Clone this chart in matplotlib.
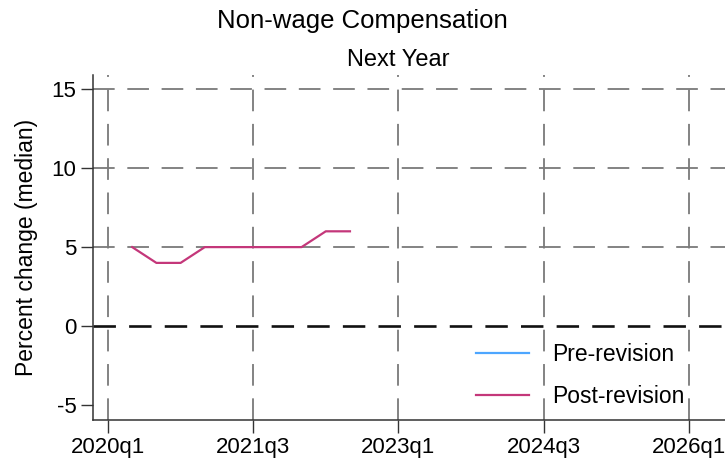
import numpy as np
import matplotlib
matplotlib.use("Agg")
import matplotlib.pyplot as plt

plt.rcParams['font.family'] = ['Liberation Sans', 'DejaVu Sans']
plt.rcParams['axes.unicode_minus'] = False

# Quarter index, 0 = 2020q1
quarters_post = [1, 2, 3, 4, 5, 6, 7, 8, 9, 10]
post_revision = [5, 4, 4, 5, 5, 5, 5, 5, 6, 6]
quarters_pre = []
pre_revision = []

xtick_pos = [0, 6, 12, 18, 24]
xtick_labels = ['2020q1', '2021q3', '2023q1', '2024q3', '2026q1']
ytick_pos = [-5, 0, 5, 10, 15]
ygrid_pos = [5, 10, 15]

fig = plt.figure(figsize=(7.25, 4.59), dpi=100)
ax = fig.add_axes([93 / 725, 1 - 420 / 459, (725 - 93) / 725, (420 - 75) / 459])

dash = (0, (12, 7))
for x in xtick_pos:
    ax.axvline(x, color='#7a7a7a', lw=1.3, ls=dash, zorder=1)
for y in ygrid_pos:
    ax.axhline(y, color='#7a7a7a', lw=1.3, ls=dash, zorder=1)
ax.axhline(0, color='#111111', lw=1.9, ls=(0, (8.5, 5)), zorder=2)

ax.plot(quarters_pre, pre_revision, color='#4da6ff', lw=1.6, label='Pre-revision', zorder=3)
ax.plot(quarters_post, post_revision, color='#c4377a', lw=1.6, label='Post-revision', zorder=3)

ax.set_xlim(-0.62, 25.5)
ax.set_ylim(-5.95, 15.9)
ax.set_xticks(xtick_pos)
ax.set_xticklabels(xtick_labels)
ax.set_yticks(ytick_pos)
ax.tick_params(direction='out', length=9, width=1, labelsize=16, color='#333333', pad=3)

for side in ['top', 'right']:
    ax.spines[side].set_visible(False)
for side in ['left', 'bottom']:
    ax.spines[side].set_color('#333333')
    ax.spines[side].set_linewidth(1.1)

ax.set_ylabel('Percent change (median)', fontsize=16.5, labelpad=10)

fig.text(0.5, 1 - 21 / 459, 'Non-wage Compensation', ha='center', va='center', fontsize=18.5)
fig.text(398 / 725, 1 - 60 / 459, 'Next Year', ha='center', va='center', fontsize=17)

leg = ax.legend(loc='center left', bbox_to_anchor=((465 - 93) / 632, (420 - 375.5) / 345),
                frameon=False, borderpad=0, fontsize=16.5, handlelength=2.3,
                handletextpad=1.0, labelspacing=0.8)

fig.savefig('out.png', dpi=100)
